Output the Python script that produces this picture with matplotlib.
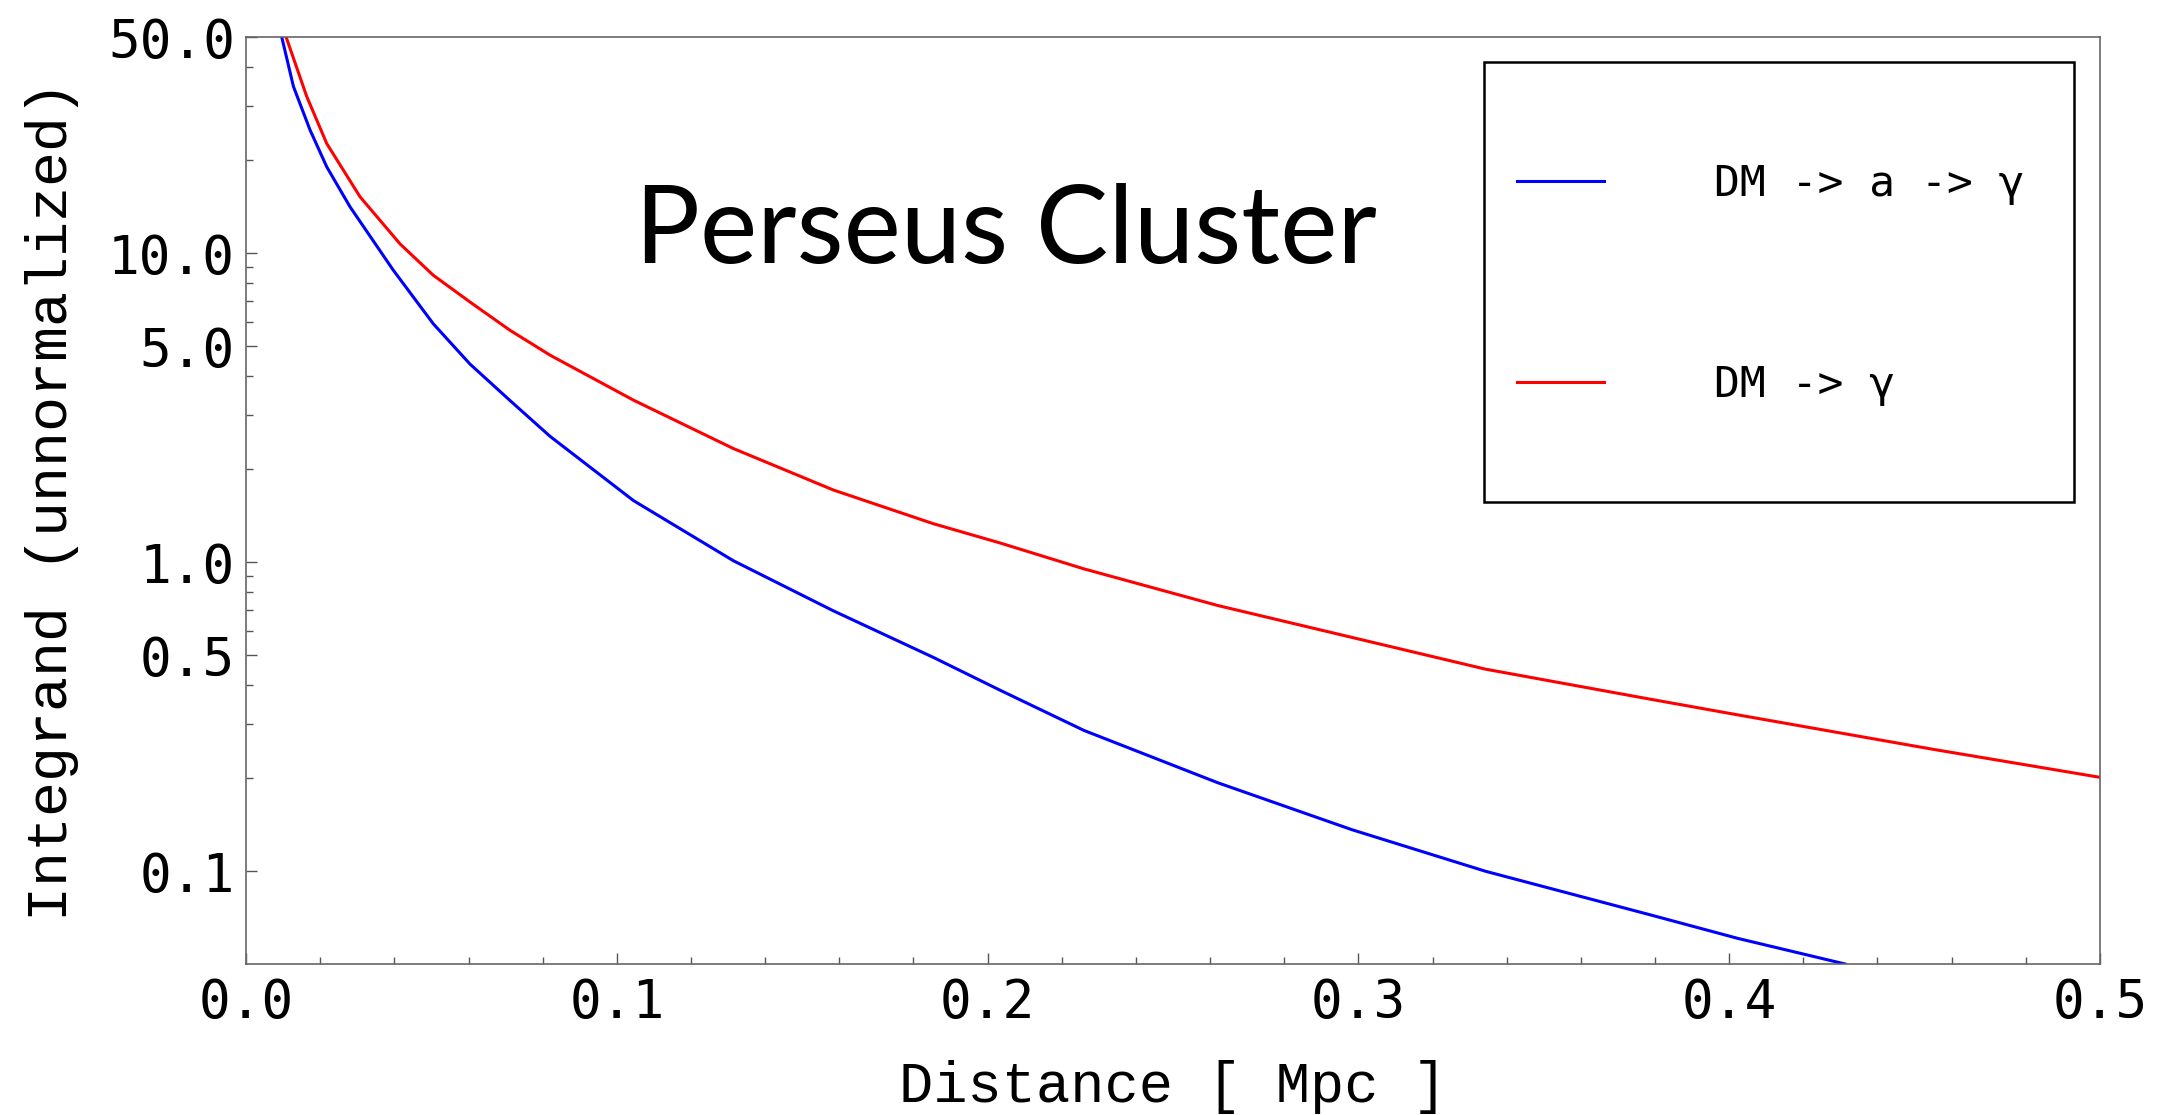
import matplotlib
matplotlib.use("Agg")
import matplotlib.pyplot as plt
from matplotlib.patches import Rectangle
from matplotlib.ticker import FixedLocator, FixedFormatter

# values (distance in Mpc, integrand unnormalized)
dist_axion = [0.00962, 0.01277, 0.01726, 0.02176, 0.02805, 0.0397, 0.0505, 0.0604,
              0.0712, 0.0820, 0.1045, 0.1314, 0.1584, 0.1854, 0.2033, 0.226,
              0.2621, 0.2983, 0.3343, 0.3786, 0.4024, 0.4313]
integ_axion = [50, 34.6, 25.0, 19.0, 14.1, 8.80, 5.90, 4.37,
               3.33, 2.55, 1.58, 1.01, 0.695, 0.491, 0.385, 0.285,
               0.193, 0.136, 0.0998, 0.0722, 0.0605, 0.05]

dist_photon = [0.0108, 0.01636, 0.02176, 0.03074, 0.04153, 0.0505, 0.0604, 0.0712,
               0.0820, 0.1045, 0.1314, 0.1584, 0.1854, 0.2033, 0.226, 0.2621,
               0.2983, 0.3343, 0.3786, 0.4024, 0.4547, 0.5]
integ_photon = [50, 32.1, 22.6, 15.2, 10.7, 8.47, 6.94, 5.62,
                4.67, 3.34, 2.33, 1.71, 1.33, 1.153, 0.95, 0.723,
                0.570, 0.450, 0.360, 0.320, 0.248, 0.201]

labels = ["DM -> a -> \u03b3", "DM -> \u03b3"]
xticks = [0.0, 0.1, 0.2, 0.3, 0.4, 0.5]
xminor = [0.02, 0.04, 0.06, 0.08, 0.12, 0.14, 0.16, 0.18, 0.22, 0.24, 0.26, 0.28,
          0.32, 0.34, 0.36, 0.38, 0.42, 0.44, 0.46, 0.48]
yticks = [0.1, 0.5, 1.0, 5.0, 10.0, 50.0]
ytick_labels = ["0.1", "0.5", "1.0", "5.0", "10.0", "50.0"]
yminor = [0.2, 0.3, 0.4, 0.6, 0.7, 0.8, 0.9, 2, 3, 4, 6, 7, 8, 9, 20, 30, 40]

fig = plt.figure(figsize=(21.68, 11.15), dpi=100)
ax = fig.add_axes([0.1135, 0.1354, 0.8551, 0.8314])

ax.plot(dist_axion, integ_axion, color=(0, 0, 1), lw=2.2, label=labels[0])
ax.plot(dist_photon, integ_photon, color=(1, 0, 0), lw=2.2, label=labels[1])

ax.set_yscale("log")
ax.set_xlim(0, 0.5)
ax.set_ylim(0.05, 50)

ax.xaxis.set_major_locator(FixedLocator(xticks))
ax.xaxis.set_major_formatter(FixedFormatter(["%.1f" % t for t in xticks]))
ax.xaxis.set_minor_locator(FixedLocator(xminor))
ax.yaxis.set_major_locator(FixedLocator(yticks))
ax.yaxis.set_major_formatter(FixedFormatter(ytick_labels))
ax.yaxis.set_minor_locator(FixedLocator(yminor))
ax.yaxis.set_minor_formatter(FixedFormatter([""] * len(yminor)))

ax.tick_params(which="both", direction="in", top=False, right=False, color="#555555")
ax.tick_params(which="major", length=8, width=1.0)
ax.tick_params(which="minor", length=5, width=1.0)
ax.tick_params(axis="x", pad=9)
ax.tick_params(axis="y", pad=8)
for lab in ax.get_xticklabels() + ax.get_yticklabels():
    lab.set_fontfamily("DejaVu Sans Mono")
    lab.set_fontsize(38)

for sp in ax.spines.values():
    sp.set_color("#666666")
    sp.set_linewidth(1.2)

ax.set_xlabel("Distance [ Mpc ]", fontfamily="Liberation Mono", fontsize=41, labelpad=23)
ax.set_ylabel("Integrand (unnormalized)", fontfamily="Liberation Mono", fontsize=42, labelpad=21)

ax.text(0.41, 0.756, "Perseus Cluster", transform=ax.transAxes, ha="center",
        va="baseline", fontfamily="Lato", fontsize=78)

# legend box drawn by hand, entries placed inside it
ax.add_patch(Rectangle((0.668, 0.498), 0.318, 0.475, transform=ax.transAxes,
                       fill=False, edgecolor="black", lw=1.8, zorder=5))
leg = ax.legend(loc="upper left", bbox_to_anchor=(0.6857, 0.864), frameon=False,
                prop={"family": "DejaVu Sans Mono", "size": 31},
                handlelength=2.02, handletextpad=2.56, labelspacing=3.7,
                borderpad=0, borderaxespad=0)
for ln in leg.get_lines():
    ln.set_linewidth(2.2)

fig.savefig("out.png", dpi=100)
